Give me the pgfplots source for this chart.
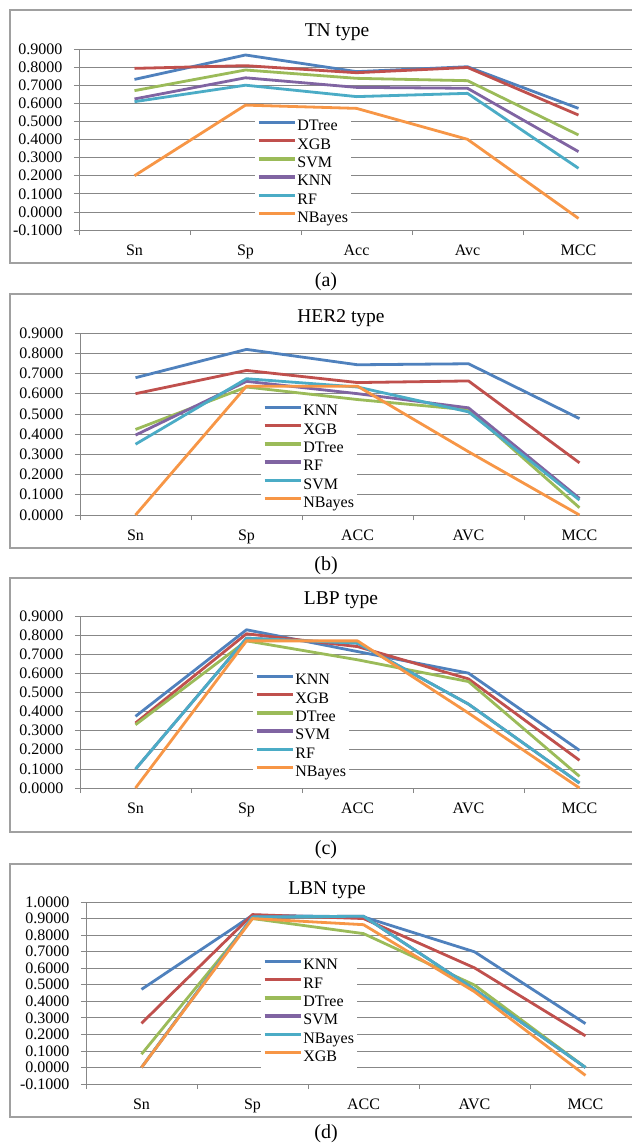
\documentclass[border=0pt]{standalone}
\usepackage{fontspec}
\setmainfont{Liberation Serif}
\usepackage{pgfplots}
\pgfplotsset{compat=1.18}

\definecolor{cBlue}{HTML}{4F81BD}
\definecolor{cRed}{HTML}{C0504D}
\definecolor{cGreen}{HTML}{9BBB59}
\definecolor{cPurple}{HTML}{8064A2}
\definecolor{cTeal}{HTML}{4BACC6}
\definecolor{cOrange}{HTML}{F79646}
\definecolor{gridgray}{HTML}{878787}
\definecolor{framegray}{HTML}{A0A0A0}

\newcommand{\tickfont}{\fontsize{16}{18}\selectfont}
\newcommand{\titlefont}{\fontsize{19.5}{22}\selectfont}

\pgfplotsset{
  panel/.style={
    scale only axis, width=555pt,
    xmin=-0.5, xmax=4.5,
    axis x line*=bottom, axis y line*=left,
    axis line style={draw=gridgray, line width=0.8pt, -},
    xtick={0,1,2,3,4},
    major x tick style={draw=none},
    minor xtick={-0.5,0.5,1.5,2.5,3.5,4.5},
    tick align=outside, major tick length=5pt, minor tick length=5pt,
    tick style={gridgray, line width=0.8pt},
    ymajorgrids, grid style={gridgray, line width=0.8pt},
    ticklabel style={font=\tickfont},
    xticklabel style={yshift=-6pt},
    yticklabel style={xshift=-8pt, /pgf/number format/.cd, fixed, fixed zerofill, precision=4, assume math mode=true},
    every axis plot/.append style={line width=2.8pt, line join=round, mark=none},
    legend cell align=left,
    legend image code/.code={\draw[#1, line width=3.4pt] (0pt,4.8pt) -- (36pt,4.8pt);},
    legend style={anchor=north west, draw=none, fill=white, inner sep=2pt, outer sep=0pt,
      row sep=0pt, font=\tickfont,
      nodes={inner sep=1pt, text height=12pt, text depth=4.3pt},
      /tikz/every even column/.append style={column sep=3pt}},
  }
}

\begin{document}
\begin{tikzpicture}
\useasboundingbox (0pt,0pt) rectangle (632pt,-1144pt);
\fill[white] (0pt,0pt) rectangle (632pt,-1144pt);

% frames, titles, captions
\draw[framegray, line width=1.2pt] (10pt,-10pt) rectangle (700pt,-263pt);
\draw[framegray, line width=1.2pt] (10pt,-294pt) rectangle (700pt,-548pt);
\draw[framegray, line width=1.2pt] (10pt,-578pt) rectangle (700pt,-832pt);
\draw[framegray, line width=1.2pt] (10pt,-864pt) rectangle (700pt,-1117pt);
\node[font=\titlefont] at (337pt,-32pt) {TN type};
\node[font=\titlefont] at (341pt,-318pt) {HER2 type};
\node[font=\titlefont] at (341pt,-600pt) {LBP type};
\node[font=\titlefont] at (327pt,-890pt) {LBN type};
\node[font=\fontsize{20}{22}\selectfont] at (326pt,-282pt) {(a)};
\node[font=\fontsize{20}{22}\selectfont] at (326pt,-566pt) {(b)};
\node[font=\fontsize{20}{22}\selectfont] at (326pt,-850pt) {(c)};
\node[font=\fontsize{20}{22}\selectfont] at (326pt,-1134pt) {(d)};

% (a) TN type
\begin{axis}[panel, at={(79pt,-230pt)}, anchor=south west, height=181pt,
  ymin=-0.1, ymax=0.9, ytick={-0.1,0,0.1,0.2,0.3,0.4,0.5,0.6,0.7,0.8,0.9},
  xticklabels={Sn,Sp,Acc,Avc,MCC},
  legend style={at={(axis description cs:0.3171,0.6304)}}]
\addplot[cBlue]   coordinates {(0,0.732) (1,0.867) (2,0.775) (3,0.802) (4,0.572)};
\addplot[cRed]    coordinates {(0,0.793) (1,0.808) (2,0.769) (3,0.798) (4,0.535)};
\addplot[cGreen]  coordinates {(0,0.670) (1,0.784) (2,0.738) (3,0.725) (4,0.425)};
\addplot[cPurple] coordinates {(0,0.624) (1,0.741) (2,0.688) (3,0.683) (4,0.333)};
\addplot[cTeal]   coordinates {(0,0.609) (1,0.700) (2,0.637) (3,0.655) (4,0.241)};
\addplot[cOrange] coordinates {(0,0.200) (1,0.590) (2,0.572) (3,0.401) (4,-0.036)};
\legend{DTree,XGB,SVM,KNN,RF,NBayes}
\end{axis}

% (b) HER2 type
\begin{axis}[panel, at={(80pt,-515pt)}, anchor=south west, height=182pt,
  ymin=0, ymax=0.9, ytick={0,0.1,0.2,0.3,0.4,0.5,0.6,0.7,0.8,0.9},
  xticklabels={Sn,Sp,ACC,AVC,MCC},
  legend style={at={(axis description cs:0.3261,0.627)}}]
\addplot[cBlue]   coordinates {(0,0.679) (1,0.819) (2,0.743) (3,0.748) (4,0.477)};
\addplot[cRed]    coordinates {(0,0.600) (1,0.715) (2,0.655) (3,0.663) (4,0.258)};
\addplot[cGreen]  coordinates {(0,0.423) (1,0.633) (2,0.571) (3,0.520) (4,0.036)};
\addplot[cPurple] coordinates {(0,0.395) (1,0.661) (2,0.600) (3,0.530) (4,0.082)};
\addplot[cTeal]   coordinates {(0,0.350) (1,0.674) (2,0.633) (3,0.510) (4,0.074)};
\addplot[cOrange] coordinates {(0,0.000) (1,0.637) (2,0.637) (3,0.313) (4,0.000)};
\legend{KNN,XGB,DTree,RF,SVM,NBayes}
\end{axis}

% (c) LBP type
\begin{axis}[panel, at={(80pt,-788pt)}, anchor=south west, height=172pt,
  ymin=0, ymax=0.9, ytick={0,0.1,0.2,0.3,0.4,0.5,0.6,0.7,0.8,0.9},
  xticklabels={Sn,Sp,ACC,AVC,MCC},
  legend style={at={(axis description cs:0.3117,0.6866)}}]
\addplot[cBlue]   coordinates {(0,0.375) (1,0.828) (2,0.714) (3,0.601) (4,0.197)};
\addplot[cRed]    coordinates {(0,0.340) (1,0.807) (2,0.740) (3,0.571) (4,0.145)};
\addplot[cGreen]  coordinates {(0,0.331) (1,0.770) (2,0.671) (3,0.557) (4,0.061)};
\addplot[cPurple] coordinates {(0,0.099) (1,0.784) (2,0.758) (3,0.439) (4,0.026)};
\addplot[cTeal]   coordinates {(0,0.099) (1,0.784) (2,0.758) (3,0.439) (4,0.026)};
\addplot[cOrange] coordinates {(0,0.000) (1,0.770) (2,0.770) (3,0.392) (4,0.000)};
\legend{KNN,XGB,DTree,SVM,RF,NBayes}
\end{axis}

% (d) LBN type
\begin{axis}[panel, at={(86pt,-1084pt)}, anchor=south west, height=182pt,
  ymin=-0.1, ymax=1.0, ytick={-0.1,0,0.1,0.2,0.3,0.4,0.5,0.6,0.7,0.8,0.9,1.0},
  xticklabels={Sn,Sp,ACC,AVC,MCC},
  legend style={at={(axis description cs:0.3153,0.7093)}}]
\addplot[cBlue]   coordinates {(0,0.472) (1,0.920) (2,0.910) (3,0.699) (4,0.265)};
\addplot[cRed]    coordinates {(0,0.267) (1,0.924) (2,0.900) (3,0.602) (4,0.191)};
\addplot[cGreen]  coordinates {(0,0.080) (1,0.900) (2,0.809) (3,0.498) (4,0.000)};
\addplot[cPurple] coordinates {(0,0.000) (1,0.910) (2,0.914) (3,0.472) (4,0.000)};
\addplot[cTeal]   coordinates {(0,0.000) (1,0.910) (2,0.914) (3,0.472) (4,0.000)};
\addplot[cOrange] coordinates {(0,0.000) (1,0.900) (2,0.863) (3,0.458) (4,-0.048)};
\legend{KNN,RF,DTree,SVM,NBayes,XGB}
\end{axis}
\end{tikzpicture}
\end{document}
